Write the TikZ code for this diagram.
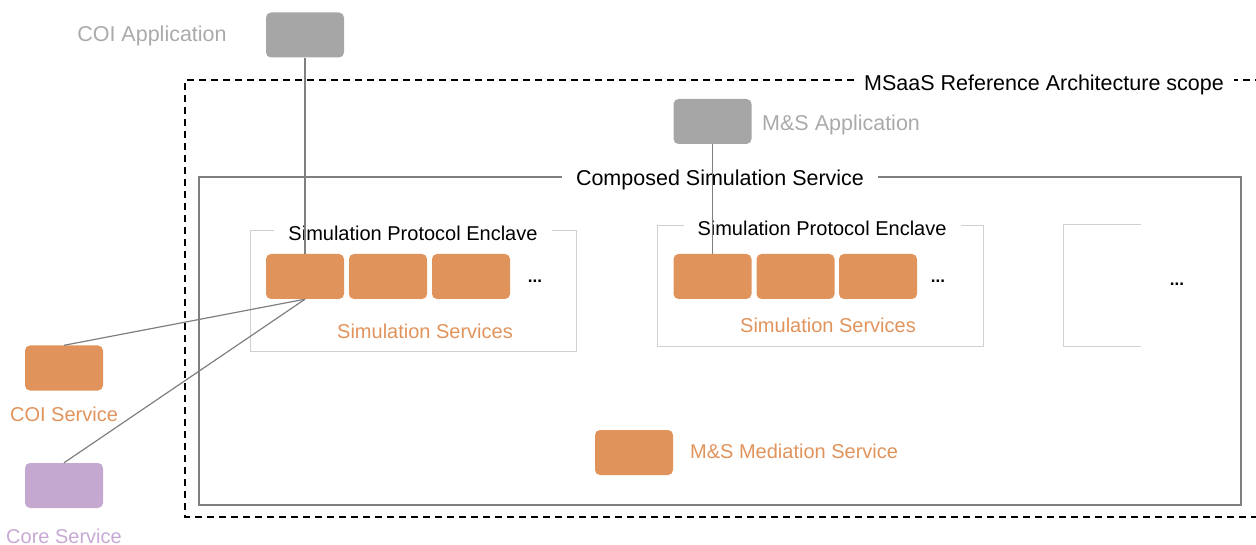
\documentclass[tikz,border=0pt]{standalone}
\usepackage{fontspec}
\setmainfont{Liberation Sans}
\begin{document}
\begin{tikzpicture}[x=1pt,y=-1pt,
  svc/.style={draw=none,rounded corners=5pt,minimum width=78pt,minimum height=45pt,inner sep=0pt},
  orng/.style={svc,fill=svcorange},
  appbox/.style={svc,fill=appgray},
  lbl/.style={font=\fontsize{20}{23}\selectfont,inner sep=0pt},
  biglbl/.style={font=\fontsize{21.5}{24}\selectfont,inner sep=0pt},
  title/.style={fill=white,inner xsep=14pt,inner ysep=2pt},
  link/.style={draw=linkgray,line width=1.2pt},
  dots/.style={font=\bfseries\fontsize{17}{19}\selectfont,inner sep=0pt}]
\definecolor{svcorange}{HTML}{E1935C}
\definecolor{appgray}{HTML}{A6A6A6}
\definecolor{txtgray}{HTML}{AAAAAA}
\definecolor{linkgray}{HTML}{7F7F7F}
\definecolor{encl}{HTML}{D0D0D0}
\definecolor{corepurple}{HTML}{C4A8D0}
\definecolor{corelbl}{HTML}{C7A9D3}
\useasboundingbox (0,0) rectangle (1256,545);

% scope of the reference architecture
\draw[line width=1.5pt,dash pattern=on 7pt off 5pt] (1262,80) -- (185,80) -- (185,517) -- (1262,517);
\node[biglbl,title,inner xsep=10pt] (scope) at (1044,85) {MSaaS Reference Architecture scope};

% composed simulation service
\draw[linkgray,line width=1.3pt] (199,177) rectangle (1241,505);
\node[biglbl,title] (css) at (720,180) {Composed Simulation Service};

% enclaves
\draw[encl,line width=1pt] (250,231) rectangle (576,352);
\node[lbl,title] (enc1) at (413,233) {Simulation Protocol Enclave};
\draw[encl,line width=1pt] (657,226) rectangle (983,347);
\node[lbl,title] (enc2) at (822,228) {Simulation Protocol Enclave};
\draw[encl,line width=1pt] (1141,225) -- (1063,225) -- (1063,347) -- (1141,347);
\node[dots] (d3) at (1177,284) {...};

% simulation services, first enclave
\node[orng] (s11) at (305,276.5) {};
\node[orng] (s12) at (388,276.5) {};
\node[orng] (s13) at (471,276.5) {};
\node[dots] (d1) at (535,281) {...};
\node[lbl,text=svcorange] (ss1) at (425,331) {Simulation Services};

% simulation services, second enclave
\node[orng] (s21) at (712.5,276.5) {};
\node[orng] (s22) at (795.5,276.5) {};
\node[orng] (s23) at (878,276.5) {};
\node[dots] (d2) at (938,281) {...};
\node[lbl,text=svcorange] (ss2) at (828,325) {Simulation Services};

% mediation service
\node[orng] (med) at (634,452.5) {};
\node[lbl,text=svcorange,anchor=west] (medl) at (690,451) {M\&S Mediation Service};

% applications
\node[appbox] (coiapp) at (305,35) {};
\node[biglbl,text=txtgray] (coiappl) at (152,36) {COI Application};
\node[appbox] (msapp) at (712.5,121.5) {};
\node[biglbl,text=txtgray,anchor=west] (msappl) at (762,125) {M\&S Application};

% external services
\node[orng] (coisvc) at (64,368) {};
\node[lbl,text=svcorange] (coisvcl) at (64,414) {COI Service};
\node[svc,fill=corepurple] (core) at (64,485.5) {};
\node[lbl,text=corelbl] (corel) at (64,536) {Core Service};

% connections
\draw[link] (coiapp.south) -- (s11.north);
\draw[link] (msapp.south) -- (s21.north);
\draw[link] (coisvc.north) -- (s11.south);
\draw[link] (core.north) -- (s11.south);
\end{tikzpicture}
\end{document}
